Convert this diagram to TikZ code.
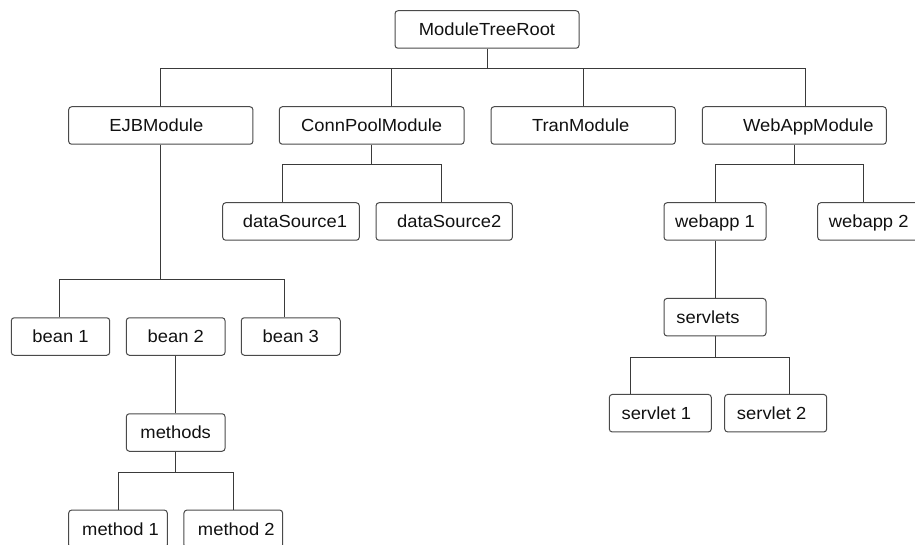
\documentclass[tikz,border=0pt]{standalone}
\usepackage{fontspec}
\setmainfont{Liberation Sans}[FakeStretch=1.05]
\definecolor{linec}{HTML}{3A3A3A}
\definecolor{boxc}{HTML}{4A4A4A}
\definecolor{txtc}{HTML}{111111}
\tikzset{
  boxn/.style={draw=boxc, rounded corners=3pt, line width=1pt, inner sep=0pt,
    minimum height=37.5pt, text height=12.5pt, text depth=0pt, text=txtc,
    font=\fontsize{17.5}{20}\selectfont},
  conn/.style={draw=linec, line width=1pt}
}
\begin{document}
\begin{tikzpicture}[x=1pt,y=-1pt]
\useasboundingbox (0,0) rectangle (915,545);
\clip (0,0) rectangle (915,545);
% nodes
\node[boxn, minimum width=184pt]   (root)     at (487,29.5)   {ModuleTreeRoot};
\node[boxn, minimum width=184.3pt] (ejb)      at (160.8,125.5) {EJBModule\hspace*{9pt}};
\node[boxn, minimum width=184.7pt] (connpool) at (371.7,125.5) {ConnPoolModule};
\node[boxn, minimum width=184.3pt] (tran)     at (583.2,125.5) {TranModule\hspace*{5pt}};
\node[boxn, minimum width=184pt]   (webapp)   at (794.3,125.5) {\hspace*{28pt}WebAppModule};
\node[boxn, minimum width=136.6pt] (ds1)      at (291,221.5)   {\hspace*{8pt}dataSource1};
\node[boxn, minimum width=136.3pt] (ds2)      at (444.2,221.5) {\hspace*{10pt}dataSource2};
\node[boxn, minimum width=102pt]   (wa1)      at (715,221.5)   {webapp 1};
\node[boxn, minimum width=102pt]   (wa2)      at (868.7,221.5) {webapp 2};
\node[boxn, minimum width=98.4pt]  (bean1)    at (60.5,336.5)  {bean 1};
\node[boxn, minimum width=98.7pt]  (bean2)    at (175.7,336.5) {bean 2};
\node[boxn, minimum width=99pt]    (bean3)    at (290.8,336.5) {bean 3};
\node[boxn, minimum width=102pt]   (servlets) at (715,317.2)   {servlets\hspace*{14pt}};
\node[boxn, minimum width=98.7pt]  (methods)  at (175.7,432.5) {methods};
\node[boxn, minimum width=102pt]   (sv1)      at (660.3,413.2) {servlet 1\hspace*{8pt}};
\node[boxn, minimum width=102pt]   (sv2)      at (775.7,413.2) {servlet 2\hspace*{8pt}};
\node[boxn, minimum width=98.6pt]  (m1)       at (118,528.8)   {\hspace*{5pt}method 1};
\node[boxn, minimum width=98.7pt]  (m2)       at (233.3,528.8) {\hspace*{6pt}method 2};
% top level
\draw[conn] (root.south) -- ++(0,20) coordinate (bus0);
\coordinate (cpin) at ([xshift=19.6pt]connpool.north);
\coordinate (wain) at ([xshift=10.7pt]webapp.north);
\draw[conn] (ejb.north) |- (bus0 -| wain) -- (wain);
\draw[conn] (cpin) -- (bus0 -| cpin);
\draw[conn] (tran.north) -- (bus0 -| tran.north);
% ConnPool subtree
\draw[conn] (connpool.south) -- ++(0,20) coordinate (cpb);
\coordinate (d1) at ([xshift=-8.3pt]ds1.north);
\coordinate (d2) at ([xshift=-2.9pt]ds2.north);
\draw[conn] (d1) |- (cpb -| d2) -- (d2);
% EJB subtree
\draw[conn] ([xshift=-0.5pt]ejb.south) -- ++(0,135) coordinate (eb);
\coordinate (b3) at ([xshift=-6.5pt]bean3.north);
\draw[conn] ([xshift=-1.2pt]bean1.north) |- (eb -| b3) -- (b3);
\draw[conn] (bean2.south) -- (methods.north);
\draw[conn] (methods.south) -- ++(0,20.7) coordinate (mb);
\draw[conn] (m1.north) |- (mb -| m2.north) -- (m2.north);
% WebApp subtree
\draw[conn] ([xshift=0.4pt]webapp.south) -- ++(0,20) coordinate (wb);
\coordinate (w2) at ([xshift=-5.4pt]wa2.north);
\draw[conn] (wa1.north) |- (wb -| w2) -- (w2);
\draw[conn] (wa1.south) -- (servlets.north);
\draw[conn] (servlets.south) -- ++(0,20.7) coordinate (sb);
\coordinate (s1) at ([xshift=-29.6pt]sv1.north);
\coordinate (s2) at ([xshift=14pt]sv2.north);
\draw[conn] (s1) |- (sb -| s2) -- (s2);
\end{tikzpicture}
\end{document}
